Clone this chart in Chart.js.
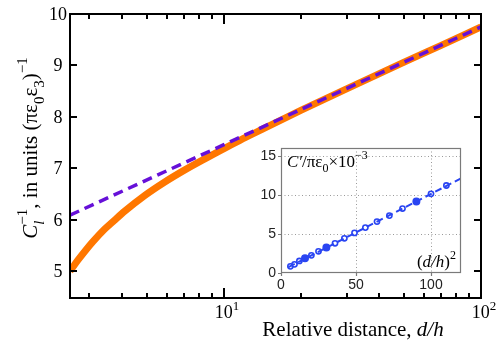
<!DOCTYPE html>
<html>
<head>
<meta charset="utf-8">
<script src="https://cdn.jsdelivr.net/npm/chart.js@4.4.1/dist/chart.umd.min.js"></script>
<style>
  html, body { margin: 0; padding: 0; background: #fff; }
  #wrap { position: relative; width: 498px; height: 345px; }
  #inset { position: absolute; left: 250px; top: 138px; }
</style>
</head>
<body>
<div id="wrap">
  <canvas id="main" width="498" height="345"></canvas>
  <canvas id="inset" width="222" height="160"></canvas>
</div>
<script>
// main plot: relative distance d/h (log axis) and inverse capacitance
var distance  = [2.52, 2.7, 2.88, 3.1, 3.44, 3.75, 4.12, 4.93, 5.89, 7.05, 8.43, 10.1, 12.1, 14.0, 20, 30, 50, 70, 100];
var exactInv  = [5.00, 5.21, 5.39, 5.58, 5.82, 5.99, 6.17, 6.475, 6.735, 6.97, 7.185, 7.395, 7.595, 7.755, 8.13, 8.545, 9.06, 9.39, 9.75];
var asymDist  = [2.52, 10, 100];
var asymInv   = [6.09, 7.46, 9.75];
var yTicks    = [5, 6, 7, 8, 9, 10];
var xMajor    = [10, 100];
var xMinor    = [3, 4, 5, 6, 7, 8, 9, 20, 30, 40, 50, 60, 70, 80, 90];

// inset: (d/h)^2 vs C'/pi eps0 x 1e-3
var dSquared  = [6.25, 9, 12.25, 16, 20.25, 25, 30.25, 36, 42.25, 49, 56.25, 64, 72.25, 81, 90.25, 100, 110.25];
var capacity  = [0.85, 1.11, 1.54, 1.88, 2.26, 2.78, 3.25, 3.80, 4.44, 5.13, 5.81, 6.58, 7.35, 8.25, 9.15, 10.13, 11.2];
var filledPts = [3, 6, 14];
var fitX      = [5, 120];
var fitY      = [0.75, 12.1];
var insetXTicks = [0, 50, 100];
var insetYTicks = [0, 5, 10, 15];

var SERIF = '"Liberation Serif", "Times New Roman", serif';
var SANS  = '"Liberation Sans", Arial, sans-serif';

function zip(xs, ys) {
  return xs.map(function(x, i) { return { x: x, y: ys[i] }; });
}

// draw a run of text pieces; piece.stack draws it over the previous piece (sub + sup)
function richWidth(ctx, parts) {
  var w = 0, prevW = 0;
  parts.forEach(function(p) {
    ctx.font = p.f;
    var pw = ctx.measureText(p.t).width;
    if (p.stack) {
      w += Math.max(0, pw - prevW);
      prevW = Math.max(prevW, pw);
    } else {
      prevW = pw;
      w += pw;
    }
  });
  return w;
}
function drawRich(ctx, parts, x, y, align) {
  var w = richWidth(ctx, parts);
  var cx = align === 'center' ? x - w / 2 : (align === 'right' ? x - w : x);
  var start = cx, prevW = 0;
  ctx.textAlign = 'left';
  ctx.textBaseline = 'alphabetic';
  parts.forEach(function(p) {
    ctx.font = p.f;
    var pw = ctx.measureText(p.t).width;
    if (p.stack) {
      ctx.fillText(p.t, start, y + (p.dy || 0));
      cx = start + Math.max(prevW, pw);
      prevW = Math.max(prevW, pw);
    } else {
      start = cx;
      ctx.fillText(p.t, cx, y + (p.dy || 0));
      prevW = pw;
      cx += pw;
    }
  });
}

var mainAxes = {
  id: 'mainAxes',
  afterDraw: function(chart) {
    var ctx = chart.ctx, a = chart.chartArea;
    var xs = chart.scales.x, ys = chart.scales.y;
    ctx.save();
    ctx.strokeStyle = '#000';
    ctx.fillStyle = '#000';
    ctx.lineWidth = 2;
    ctx.beginPath();
    yTicks.forEach(function(v) {
      var py = Math.round(ys.getPixelForValue(v));
      ctx.moveTo(a.left, py); ctx.lineTo(a.left + 7, py);
      ctx.moveTo(a.right, py); ctx.lineTo(a.right - 7, py);
    });
    xMinor.forEach(function(v) {
      var px = Math.round(xs.getPixelForValue(v));
      ctx.moveTo(px, a.bottom); ctx.lineTo(px, a.bottom - 5);
      ctx.moveTo(px, a.top); ctx.lineTo(px, a.top + 5);
    });
    xMajor.forEach(function(v) {
      var px = Math.round(xs.getPixelForValue(v));
      ctx.moveTo(px, a.bottom); ctx.lineTo(px, a.bottom - 10);
      ctx.moveTo(px, a.top); ctx.lineTo(px, a.top + 10);
    });
    ctx.stroke();
    ctx.strokeRect(a.left, a.top, a.right - a.left, a.bottom - a.top);

    // tick labels
    ctx.font = '18px ' + SERIF;
    ctx.textAlign = 'center';
    ctx.textBaseline = 'middle';
    yTicks.forEach(function(v) {
      ctx.fillText(String(v), 58, ys.getPixelForValue(v) + 1);
    });
    xMajor.forEach(function(v) {
      var px = xs.getPixelForValue(v);
      drawRich(ctx, [
        { t: '10', f: '18px ' + SERIF },
        { t: String(Math.round(Math.log10(v))), f: '13px ' + SERIF, dy: -8 }
      ], px + 3, 318, 'center');
    });

    // axis titles
    drawRich(ctx, [
      { t: 'Relative distance, ', f: '21px ' + SERIF },
      { t: 'd/h', f: 'italic 21px ' + SERIF }
    ], 353, 336, 'center');

    ctx.translate(37, 148);
    ctx.rotate(-Math.PI / 2);
    drawRich(ctx, [
      { t: 'C', f: 'italic 21px ' + SERIF },
      { t: 'l', f: 'italic 15px ' + SERIF, dy: 7 },
      { t: '\u22121', f: '15px ' + SERIF, dy: -10, stack: true },
      { t: ', in units (', f: '21px ' + SERIF },
      { t: '\u03c0\u03b5', f: '21px ' + SERIF },
      { t: '0', f: '15px ' + SERIF, dy: 7 },
      { t: '\u03b5', f: '21px ' + SERIF },
      { t: '3', f: '15px ' + SERIF, dy: 7 },
      { t: ')', f: '21px ' + SERIF },
      { t: '\u22121', f: '15px ' + SERIF, dy: -10 }
    ], 0, 0, 'center');
    ctx.restore();
  }
};

new Chart(document.getElementById('main'), {
  type: 'line',
  data: {
    datasets: [
      {
        data: zip(asymDist, asymInv),
        borderColor: '#6610d8',
        borderWidth: 3.5,
        borderDash: [10, 6],
        pointRadius: 0
      },
      {
        data: zip(distance, exactInv),
        borderColor: '#ff7700',
        borderWidth: 7,
        pointRadius: 0,
        cubicInterpolationMode: 'monotone',
        borderCapStyle: 'butt'
      }
    ]
  },
  options: {
    responsive: false,
    animation: false,
    devicePixelRatio: 1,
    layout: { padding: { left: 70, top: 14, right: 17, bottom: 47 } },
    plugins: { legend: { display: false }, tooltip: { enabled: false } },
    scales: {
      x: { type: 'logarithmic', min: 2.52, max: 100, display: false },
      y: { type: 'linear', min: 4.48, max: 10, display: false }
    }
  },
  plugins: [mainAxes]
});

var insetAxes = {
  id: 'insetAxes',
  beforeDraw: function(chart) {
    var ctx = chart.ctx, a = chart.chartArea;
    var xs = chart.scales.x, ys = chart.scales.y;
    ctx.save();
    ctx.fillStyle = '#fff';
    ctx.fillRect(a.left, a.top, a.right - a.left, a.bottom - a.top);
    ctx.strokeStyle = '#9a9a9a';
    ctx.lineWidth = 1;
    ctx.setLineDash([1, 2.5]);
    ctx.beginPath();
    insetXTicks.slice(1).forEach(function(v) {
      var px = Math.round(xs.getPixelForValue(v)) + 0.5;
      ctx.moveTo(px, a.top); ctx.lineTo(px, a.bottom);
    });
    insetYTicks.slice(1).forEach(function(v) {
      var py = Math.round(ys.getPixelForValue(v)) + 0.5;
      ctx.moveTo(a.left, py); ctx.lineTo(a.right, py);
    });
    ctx.stroke();
    ctx.restore();
  },
  afterDraw: function(chart) {
    var ctx = chart.ctx, a = chart.chartArea;
    var xs = chart.scales.x, ys = chart.scales.y;
    ctx.save();
    ctx.strokeStyle = '#7a7a7a';
    ctx.lineWidth = 1.2;
    ctx.strokeRect(a.left + 0.5, a.top + 0.5, a.right - a.left - 1, a.bottom - a.top - 1);
    ctx.beginPath();
    insetYTicks.forEach(function(v) {
      var py = Math.round(ys.getPixelForValue(v)) + 0.5;
      ctx.moveTo(a.left, py); ctx.lineTo(a.left - 3, py);
    });
    insetXTicks.forEach(function(v) {
      var px = Math.round(xs.getPixelForValue(v)) + 0.5;
      ctx.moveTo(px, a.bottom); ctx.lineTo(px, a.bottom + 3);
    });
    ctx.stroke();

    ctx.fillStyle = '#222';
    ctx.font = '14px ' + SANS;
    ctx.textAlign = 'right';
    ctx.textBaseline = 'middle';
    insetYTicks.forEach(function(v) {
      ctx.fillText(String(v), a.left - 5, ys.getPixelForValue(v));
    });
    ctx.textAlign = 'center';
    ctx.textBaseline = 'top';
    insetXTicks.forEach(function(v) {
      ctx.fillText(String(v), xs.getPixelForValue(v), a.bottom + 5);
    });

    ctx.fillStyle = '#000';
    drawRich(ctx, [
      { t: 'C\u2032', f: 'italic 17px ' + SERIF },
      { t: '/\u03c0\u03b5', f: '17px ' + SERIF },
      { t: '0', f: '12px ' + SERIF, dy: 5 },
      { t: '\u00d710', f: '17px ' + SERIF },
      { t: '\u22123', f: '12px ' + SERIF, dy: -8 }
    ], a.left + 6, a.top + 19, 'left');
    drawRich(ctx, [
      { t: '(', f: '17px ' + SERIF },
      { t: 'd/h', f: 'italic 17px ' + SERIF },
      { t: ')', f: '17px ' + SERIF },
      { t: '2', f: '12px ' + SERIF, dy: -8 }
    ], a.right - 5, a.bottom - 6, 'right');
    ctx.restore();
  }
};

new Chart(document.getElementById('inset'), {
  type: 'line',
  data: {
    datasets: [
      {
        data: zip(fitX, fitY),
        borderColor: '#2a45f2',
        borderWidth: 2,
        borderDash: [7, 4],
        pointRadius: 0
      },
      {
        data: zip(dSquared, capacity),
        showLine: false,
        borderColor: '#2a45f2',
        pointBorderColor: '#2a45f2',
        pointBorderWidth: 1.6,
        pointRadius: dSquared.map(function(d, i) { return filledPts.indexOf(i) >= 0 ? 3.2 : 2.6; }),
        pointBackgroundColor: dSquared.map(function(d, i) { return filledPts.indexOf(i) >= 0 ? '#2a45f2' : '#ffffff'; })
      }
    ]
  },
  options: {
    responsive: false,
    animation: false,
    devicePixelRatio: 1,
    layout: { padding: { left: 31, top: 10, right: 11, bottom: 25 } },
    plugins: { legend: { display: false }, tooltip: { enabled: false } },
    scales: {
      x: { type: 'linear', min: 0, max: 120, display: false },
      y: { type: 'linear', min: 0, max: 16, display: false }
    }
  },
  plugins: [insetAxes]
});
</script>
</body>
</html>
